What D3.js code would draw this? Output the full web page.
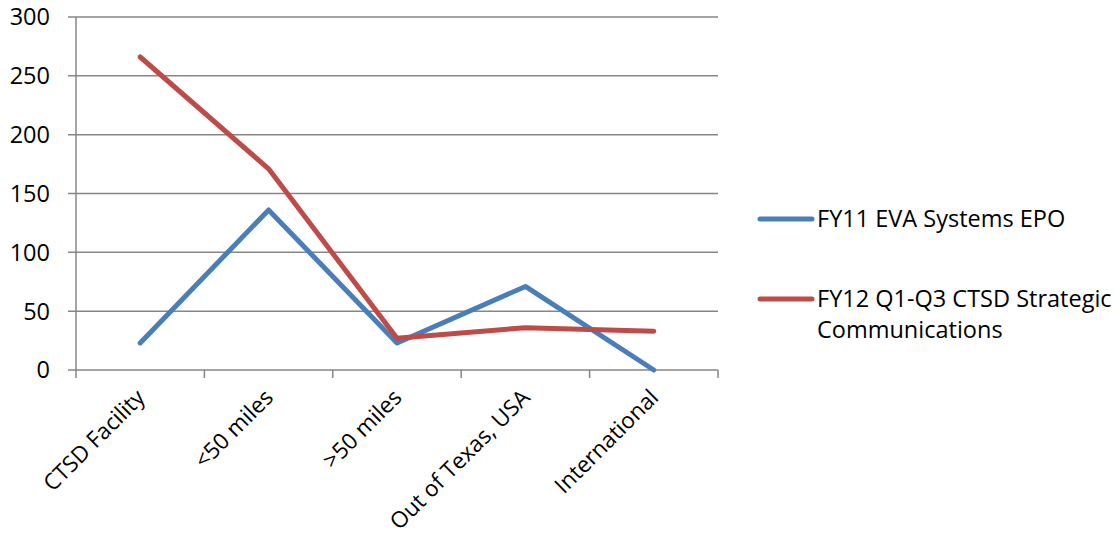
<!DOCTYPE html>
<html>
<head>
<meta charset="utf-8">
<script src="https://cdn.jsdelivr.net/npm/d3@7"></script>
<style>
  html, body { margin: 0; padding: 0; background: #fff; }
  svg { display: block; }
  text { font-family: "Open Sans", sans-serif; fill: #000; }
</style>
</head>
<body>
<svg id="chart" width="1115" height="542"></svg>
<script>
// Visitor locations by distance, two reporting periods
const categories = ["CTSD Facility", "<50 miles", ">50 miles", "Out of Texas, USA", "International"];
const fy11Values = [23, 136, 23, 71, 0];
const fy12Values = [266, 171, 27, 36, 33];
const yTicks = [0, 50, 100, 150, 200, 250, 300];
const seriesNames = ["FY11 EVA Systems EPO", "FY12 Q1-Q3 CTSD Strategic Communications"];
const seriesColors = ["#4A7EBB", "#BE4B48"];

const svg = d3.select("#chart");
const plot = { left: 76, right: 718, top: 17, bottom: 370 };
const gridColor = "#868686";
const fontSize = 23.5;
const catFontSize = 22.5;

const x = d3.scaleBand().domain(categories).range([plot.left, plot.right]);
const y = d3.scaleLinear().domain([0, 300]).range([plot.bottom, plot.top]);

// Horizontal gridlines with their short tick stubs
svg.append("g")
  .selectAll("line")
  .data(yTicks)
  .join("line")
  .attr("x1", plot.left - 8)
  .attr("x2", plot.right)
  .attr("y1", d => y(d))
  .attr("y2", d => y(d))
  .attr("stroke", gridColor)
  .attr("stroke-width", 1.5);

// Y axis line
svg.append("line")
  .attr("x1", plot.left).attr("x2", plot.left)
  .attr("y1", plot.top).attr("y2", plot.bottom)
  .attr("stroke", gridColor).attr("stroke-width", 1.5);

// Y tick labels
svg.append("g")
  .selectAll("text")
  .data(yTicks)
  .join("text")
  .attr("x", 50)
  .attr("y", d => y(d))
  .attr("dy", "0.36em")
  .attr("text-anchor", "end")
  .attr("font-size", fontSize)
  .text(d => d);

// X tick marks at band boundaries
const bounds = categories.map(c => x(c)).concat([plot.right]);
svg.append("g")
  .selectAll("line")
  .data(bounds)
  .join("line")
  .attr("x1", d => d).attr("x2", d => d)
  .attr("y1", plot.bottom).attr("y2", plot.bottom + 8)
  .attr("stroke", gridColor).attr("stroke-width", 1.5);

// Rotated category labels
svg.append("g")
  .selectAll("text")
  .data(categories)
  .join("text")
  .attr("transform", d => `translate(${x(d) + x.bandwidth() / 2 + 6},${plot.bottom + 29}) rotate(-45)`)
  .attr("text-anchor", "end")
  .attr("font-size", catFontSize)
  .text(d => d);

// Series lines
const series = [fy11Values, fy12Values];
const line = d3.line()
  .x((d, i) => x(categories[i]) + x.bandwidth() / 2)
  .y(d => y(d));

svg.append("g")
  .selectAll("path")
  .data(series)
  .join("path")
  .attr("d", d => line(d))
  .attr("fill", "none")
  .attr("stroke", (d, i) => seriesColors[i])
  .attr("stroke-width", 5)
  .attr("stroke-linejoin", "round")
  .attr("stroke-linecap", "round");

// Legend
const legend = svg.append("g");
const legendItems = [
  { name: seriesNames[0], color: seriesColors[0], y: 219, lines: ["FY11 EVA Systems EPO"] },
  { name: seriesNames[1], color: seriesColors[1], y: 299, lines: ["FY12 Q1-Q3 CTSD Strategic", "Communications"] }
];
legendItems.forEach(item => {
  legend.append("line")
    .attr("x1", 760).attr("x2", 812)
    .attr("y1", item.y).attr("y2", item.y)
    .attr("stroke", item.color)
    .attr("stroke-width", 5)
    .attr("stroke-linecap", "round");
  const t = legend.append("text")
    .attr("x", 817)
    .attr("y", item.y)
    .attr("font-size", fontSize);
  item.lines.forEach((ln, k) => {
    t.append("tspan")
      .attr("x", 817)
      .attr("dy", k === 0 ? "0.36em" : 31)
      .text(ln);
  });
});
</script>
</body>
</html>
